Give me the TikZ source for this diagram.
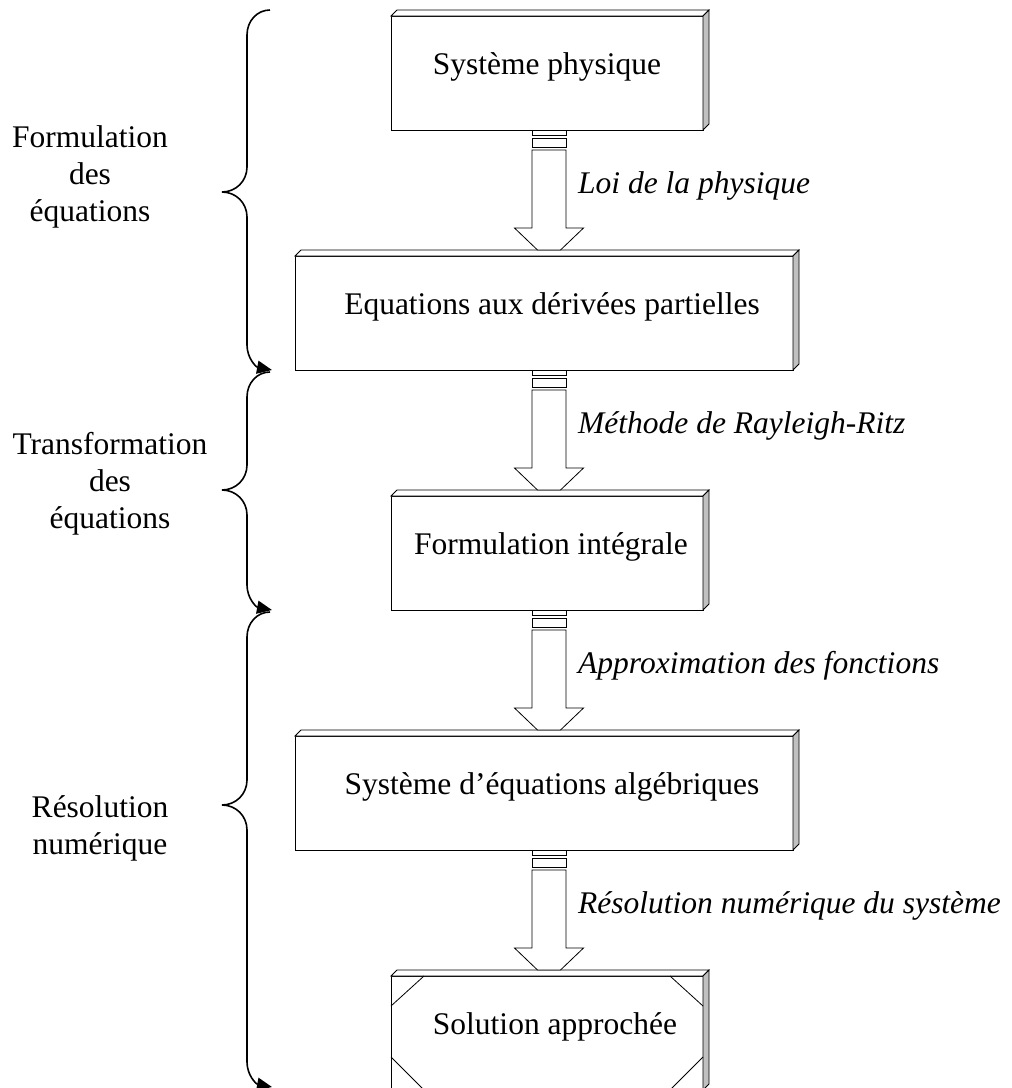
\documentclass[tikz,border=0pt]{standalone}
\usepackage{fontspec}
\setmainfont{Liberation Serif}
\usetikzlibrary{calc,arrows.meta}

\newcommand{\diagfont}{\fontsize{31.5}{37}\selectfont}
\definecolor{sidegray}{HTML}{C0C0C0}

% raised edge on top and right of a box
\newcommand{\bevel}[1]{%
  \draw[edge, fill=white] (#1.north west) -- ++(6,-6) -- ($(#1.north east)+(6,-6)$) -- (#1.north east) -- cycle;
  \draw[edge, fill=sidegray] (#1.north east) -- ++(6,-6) -- ($(#1.south east)+(6,-6)$) -- (#1.south east) -- cycle;
}

% hollow block arrow from the bottom of one box to the top of the next
\newcommand{\flowarrow}[2]{%
  \draw[edge, fill=white] ($(axis |- #1.south)+(-17,0)$) rectangle ($(axis |- #1.south)+(17,5)$);
  \draw[edge, fill=white] ($(axis |- #1.south)+(-17,8)$) rectangle ($(axis |- #1.south)+(17,17)$);
  \draw[edge, fill=white] ($(axis |- #1.south)+(-17,20)$) -- ($(axis |- #1.south)+(-17,98)$)
    -- ($(axis |- #1.south)+(-34.5,98)$) -- ($(axis |- #2.north)+(-11.5,-6)$)
    -- ($(axis |- #2.north)+(11.5,-6)$) -- ($(axis |- #1.south)+(34.5,98)$)
    -- ($(axis |- #1.south)+(17,98)$) -- ($(axis |- #1.south)+(17,20)$) -- cycle;
}

% curly brace on the left, ending in an arrow
\newcommand{\leftbrace}[3]{%
  \draw[brace] (270,#1) .. controls (257,#1) and (247,#1+11) .. (247,#1+25)
    -- (247,#2-25) .. controls (247,#2-11) and (236,#2) .. (222,#2)
    .. controls (236,#2) and (247,#2+11) .. (247,#2+25)
    -- (247,#3-25) .. controls (247,#3-12) and (256,#3-3) .. (272,#3);
}

\begin{document}
\begin{tikzpicture}[x=1pt, y=-1pt,
  edge/.style={line width=0.8pt, line join=miter},
  box/.style={edge, draw, fill=white, inner sep=0pt, outer sep=0pt,
    minimum height=114pt, text height=58pt, text depth=56pt, font=\diagfont},
  nudge/.style={execute at begin node={\hspace*{#1}}},
  steplabel/.style={anchor=base west, inner sep=0pt, font=\diagfont\itshape},
  phase/.style={anchor=north, inner sep=0pt, align=center, font=\diagfont},
  brace/.style={line width=1.6pt, -{Triangle[length=15pt,width=13pt]}}]
\useasboundingbox (0,0) rectangle (1012,1088);

\coordinate (axis) at (549,0);

% boxes
\node[box, minimum width=312pt] (b1) at (547,73) {Système physique};
\node[box, minimum width=498pt, nudge=16pt] (b2) at (544,313) {Equations aux dérivées partielles};
\node[box, minimum width=312pt, nudge=8pt] (b3) at (547,553) {Formulation intégrale};
\node[box, minimum width=498pt, nudge=16pt] (b4) at (544,793) {Système d’équations algébriques};
\node[box, minimum width=312pt, nudge=16pt] (b5) at (547,1033) {Solution approchée};
\foreach \b in {b1,b2,b3,b4,b5} {\bevel{\b}}

% cut corners of the final box
\draw[edge] ($(b5.north west)+(33,0)$) -- ($(b5.north west)+(0,30)$);
\draw[edge] ($(b5.south west)+(0,-33)$) -- ($(b5.south west)+(33,0)$);
\draw[edge] ($(b5.north east)+(-33,0)$) -- ($(b5.north east)+(0,30)$);
\draw[edge] ($(b5.south east)+(0,-33)$) -- ($(b5.south east)+(-33,0)$);

% arrows between boxes
\flowarrow{b1}{b2}
\flowarrow{b2}{b3}
\flowarrow{b3}{b4}
\flowarrow{b4}{b5}

% arrow labels
\node[steplabel] (l1) at ($(axis |- b1.south)+(29,63)$) {Loi de la physique};
\node[steplabel] (l2) at ($(axis |- b2.south)+(29,63)$) {Méthode de Rayleigh-Ritz};
\node[steplabel] (l3) at ($(axis |- b3.south)+(29,63)$) {Approximation des fonctions};
\node[steplabel] (l4) at ($(axis |- b4.south)+(29,63)$) {Résolution numérique du système};

% phases on the left
\leftbrace{10}{192}{370}
\leftbrace{372}{490}{610}
\leftbrace{612}{805}{1087}
\node[phase] (p1) at (90,125) {Formulation\\des\\équations};
\node[phase] (p2) at (110,432) {Transformation\\des\\équations};
\node[phase] (p3) at (100,795) {Résolution\\numérique};
\end{tikzpicture}
\end{document}
